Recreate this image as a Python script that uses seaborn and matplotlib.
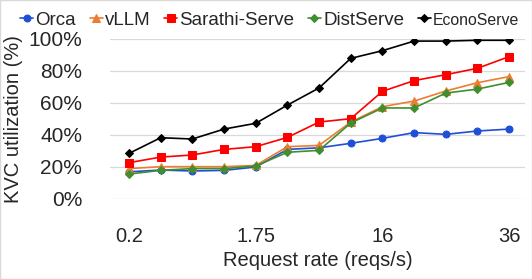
import numpy as np
import pandas as pd
import matplotlib
matplotlib.use("Agg")
import matplotlib.pyplot as plt
import seaborn as sns

# request-rate categories (only some are labelled on the axis)
tick_positions = [0, 4, 8, 12]
tick_labels = ["0.2", "1.75", "16", "36"]
n_points = 13

orca = [17.0, 18.1, 17.5, 17.9, 20.0, 31.0, 32.0, 34.8, 37.9, 41.5, 40.4, 42.5, 43.7]
vllm = [19.0, 20.2, 20.2, 20.2, 21.0, 32.7, 33.5, 48.1, 57.7, 61.2, 67.5, 72.7, 76.5]
sarathi = [22.7, 26.2, 27.5, 31.0, 32.7, 38.5, 48.1, 50.2, 67.3, 74.0, 77.7, 81.7, 89.0]
distserve = [15.6, 17.9, 19.0, 19.0, 20.6, 29.2, 30.4, 47.5, 56.9, 56.9, 66.2, 68.7, 72.9]
econoserve = [28.5, 38.3, 37.5, 43.7, 47.3, 58.7, 69.4, 87.9, 92.7, 98.7, 98.7, 99.2, 99.2]

series = ["Orca", "vLLM", "Sarathi-Serve", "DistServe", "EconoServe"]
values = [orca, vllm, sarathi, distserve, econoserve]
colors = ["#1f4fd6", "#ed7d31", "#ff0000", "#3f8f2f", "#000000"]
markers = ["o", "^", "s", "D", "D"]
msizes = [5, 5.5, 6, 4.5, 3.8]

sns.set_theme(style="white")
plt.rcParams["font.family"] = ["Liberation Sans", "DejaVu Sans"]

fig = plt.figure(figsize=(5.32, 2.79), dpi=100)
ax = fig.add_axes([110 / 532, 1 - 199 / 279, (525 - 110) / 532, 160 / 279])

x = np.arange(n_points)
for name, vals, col, mk, ms in zip(series, values, colors, markers, msizes):
    df = pd.DataFrame({"x": x, "y": vals})
    sns.lineplot(data=df, x="x", y="y", color=col, marker=mk, markersize=ms,
                 markeredgecolor=col, linewidth=1.2, label=name, ax=ax)

ax.set_xlim(-0.6, 12.5)
ax.set_ylim(0, 100)
ax.set_yticks(np.arange(0, 101, 20))
ax.set_yticklabels([f"{v}%" for v in range(0, 101, 20)], fontsize=15)
ax.set_xticks(tick_positions)
ax.set_xticklabels(tick_labels, fontsize=14.5)
ax.tick_params(axis="y", length=0, pad=20)
ax.tick_params(axis="x", length=0, pad=20)
ax.yaxis.grid(True, color="#d9d9d9", linewidth=0.9)
ax.xaxis.grid(False)
for s in ax.spines.values():
    s.set_visible(False)

ax.set_xlabel("Request rate (reqs/s)", fontsize=14.5, labelpad=4)
ax.set_ylabel("KVC utilization (%)", fontsize=14.5, labelpad=4)

handles, labels = ax.get_legend_handles_labels()
ax.get_legend().remove()
leg = fig.legend(handles, labels, loc="center left", bbox_to_anchor=(20 / 532, 1 - 20 / 279),
                 ncol=5, frameon=False, fontsize=13.5, handlelength=0.7,
                 handletextpad=0.12, columnspacing=0.72, borderpad=0, borderaxespad=0)
leg.get_texts()[-1].set_fontsize(11.4)

fig.patches.append(plt.Rectangle((0, 0), 1, 1, transform=fig.transFigure,
                                 fill=False, edgecolor="#d9d9d9", linewidth=1))

fig.savefig("out.png", dpi=100)
